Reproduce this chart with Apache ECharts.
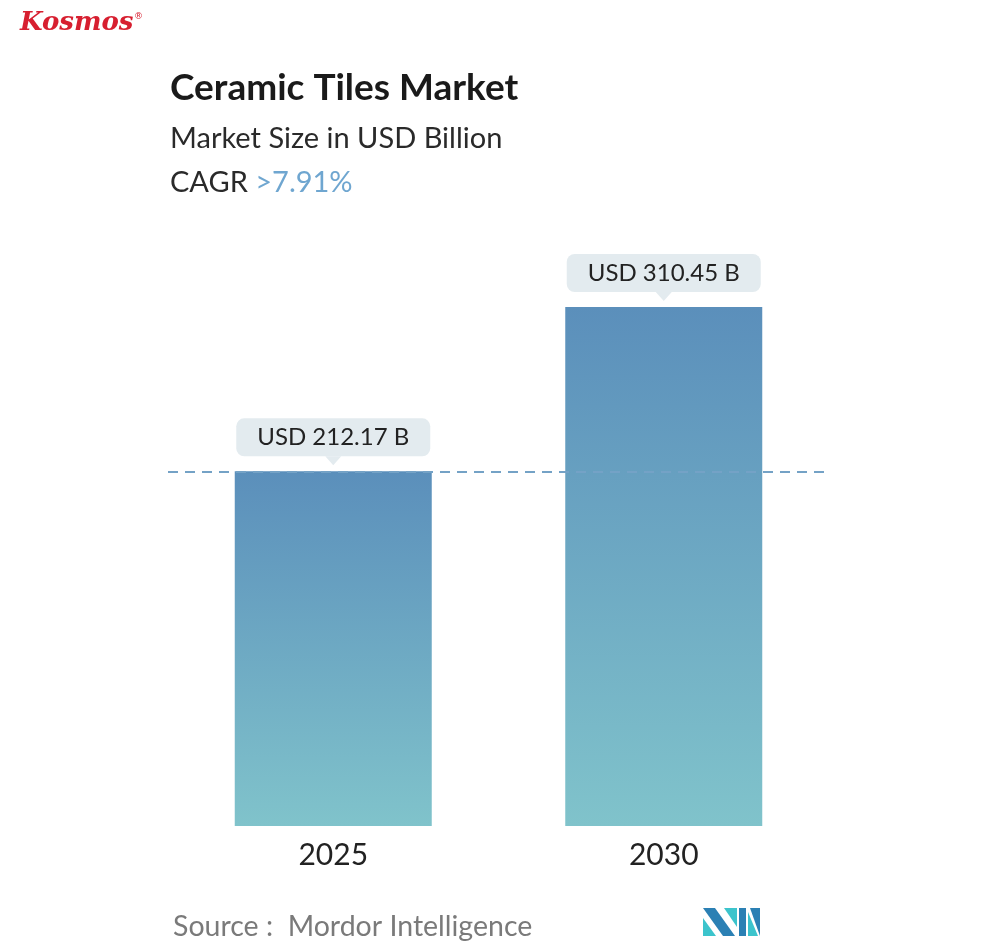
<!DOCTYPE html>
<html lang="en">
<head>
    <meta charset="UTF-8">
    <title>Ceramic Tiles Market</title>
    <style>
        html, body { margin: 0; padding: 0; background: #fff; }
        .chart { width: 1000px; height: 949px; }
    </style>
    <script src="https://cdn.jsdelivr.net/npm/echarts@6/dist/echarts.min.js"></script>
</head>
<body>
<div class="chart"></div>
<script>
    // 数据
    var years = ['2025', '2030'];
    var marketSize = [212.17, 310.45];
    var valueLabels = ['USD 212.17 B', 'USD 310.45 B'];
    var cagrText = '>7.91%';

    var box = document.getElementsByClassName('chart')[0];
    var myChart = echarts.init(box);

    var pointers = [];
    for (var i = 0; i < years.length; i++) {
        pointers.push({ coord: [years[i], marketSize[i]] });
    }

    var option = {
        animation: false,
        grid: { left: 168, right: 171, top: 307, bottom: 123 },
        xAxis: {
            type: 'category',
            data: years,
            axisLine: { show: false },
            axisTick: { show: false },
            axisLabel: { fontSize: 30, color: '#222', fontFamily: 'Lato', margin: 14 }
        },
        yAxis: { type: 'value', min: 0, max: 310.45, show: false, splitLine: { show: false } },
        graphic: [
            { type: 'text', left: 20, top: 10, style: { text: 'Kosmos', font: 'italic bold 26px "DejaVu Serif"', fill: '#d71f30' } },
            { type: 'text', left: 134, top: 12, style: { text: '®', font: '9px "DejaVu Sans"', fill: '#d71f30' } },
            { type: 'text', x: 170, y: 88, style: { text: 'Ceramic Tiles Market', font: 'bold 37px Lato', fill: '#1a1a1a', verticalAlign: 'middle' } },
            { type: 'text', x: 170, y: 139, style: { text: 'Market Size in USD Billion', font: '29px Lato', fill: '#2a2a2a', verticalAlign: 'middle' } },
            { type: 'text', x: 170, y: 183, style: {
                text: '{a|CAGR }{b|' + cagrText + '}', verticalAlign: 'middle',
                rich: {
                    a: { fontSize: 29, fontFamily: 'Lato', fill: '#2a2a2a' },
                    b: { fontSize: 29, fontFamily: 'Lato', fill: '#6fa6d0' }
                }
            } },
            { type: 'text', x: 173, y: 927, style: { text: 'Source :  Mordor Intelligence', font: '28.5px Lato', fill: '#7a7a7a', verticalAlign: 'middle' } },
            // MI 标志
            { type: 'polygon', shape: { points: [[703, 918], [703, 936], [716, 936]] }, style: { fill: '#3cc4cc' } },
            { type: 'polygon', shape: { points: [[703, 908], [715, 908], [735, 936], [723, 936]] }, style: { fill: '#2b80b4' } },
            { type: 'polygon', shape: { points: [[724, 908], [737, 908], [737, 927]] }, style: { fill: '#3cc4cc' } },
            { type: 'polygon', shape: { points: [[739, 908], [746, 908], [746, 936], [739, 936]] }, style: { fill: '#2b80b4' } },
            { type: 'polygon', shape: { points: [[748, 912], [748, 936], [758, 936]] }, style: { fill: '#3cc4cc' } },
            { type: 'polygon', shape: { points: [[750, 908], [760, 908], [760, 936]] }, style: { fill: '#2b80b4' } }
        ],
        series: [
            {
                type: 'bar',
                data: marketSize,
                barWidth: 197,
                itemStyle: {
                    color: new echarts.graphic.LinearGradient(0, 0, 0, 1, [
                        { offset: 0, color: '#5b8fbb' },
                        { offset: 1, color: '#80c3cb' }
                    ])
                },
                label: {
                    show: true,
                    position: 'top',
                    distance: 15,
                    formatter: function (p) { return valueLabels[p.dataIndex]; },
                    fontSize: 24,
                    fontFamily: 'Lato',
                    color: '#222',
                    lineHeight: 24,
                    backgroundColor: '#e3ebef',
                    borderRadius: 8,
                    padding: [7, 0],
                    width: 194,
                    align: 'center'
                },
                markPoint: {
                    symbol: 'triangle',
                    symbolRotate: 180,
                    symbolSize: [16, 9],
                    symbolOffset: [0, -10.5],
                    itemStyle: { color: '#e3ebef' },
                    label: { show: false },
                    data: pointers
                },
                markLine: {
                    silent: true,
                    symbol: 'none',
                    label: { show: false },
                    lineStyle: { color: '#74a2c6', type: [10, 7], width: 2 },
                    data: [{ yAxis: marketSize[0] }]
                }
            }
        ]
    };
    myChart.setOption(option);
</script>
</body>
</html>
